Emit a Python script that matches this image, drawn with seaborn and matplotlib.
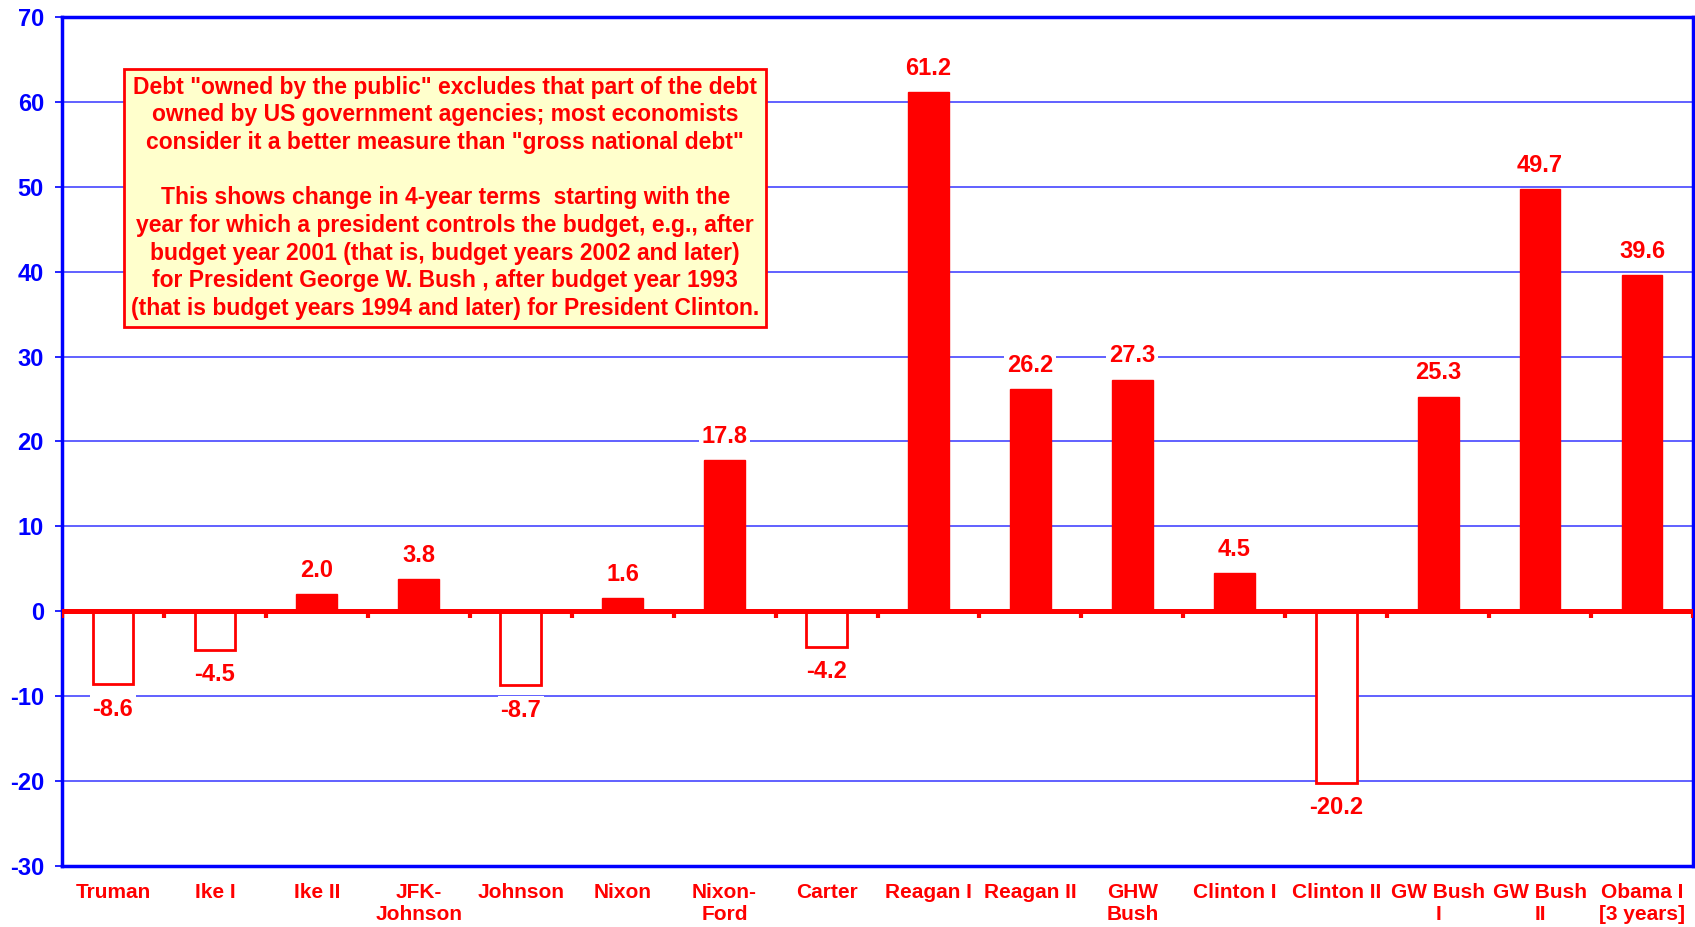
import matplotlib
matplotlib.use("Agg")
import matplotlib.pyplot as plt
import seaborn as sns
import pandas as pd

categories = ["Truman", "Ike I", "Ike II", "JFK-\nJohnson", "Johnson", "Nixon",
              "Nixon-\nFord", "Carter", "Reagan I", "Reagan II", "GHW\nBush",
              "Clinton I", "Clinton II", "GW Bush\nI", "GW Bush\nII", "Obama I\n[3 years]"]
values = [-8.6, -4.5, 2.0, 3.8, -8.7, 1.6, 17.8, -4.2, 61.2, 26.2, 27.3, 4.5, -20.2, 25.3, 49.7, 39.6]
y_ticks = [-30, -20, -10, 0, 10, 20, 30, 40, 50, 60, 70]

note = ('Debt "owned by the public" excludes that part of the debt\n'
        'owned by US government agencies; most economists\n'
        'consider it a better measure than "gross national debt"\n'
        '\n'
        'This shows change in 4-year terms  starting with the\n'
        'year for which a president controls the budget, e.g., after\n'
        'budget year 2001 (that is, budget years 2002 and later)\n'
        'for President George W. Bush , after budget year 1993\n'
        '(that is budget years 1994 and later) for President Clinton.')

RED = "#FF0000"
BLUE = "#0000FF"

sns.set_style("white")
plt.rcParams['font.family'] = ['Liberation Sans', 'DejaVu Sans']
plt.rcParams['font.weight'] = 'bold'

df = pd.DataFrame({"term": categories, "value": values})

fig = plt.figure(figsize=(16.95, 9.27), dpi=100)
ax = fig.add_axes([62/1695, 61/927, 1631/1695, 849/927])

sns.barplot(data=df, x="term", y="value", color=RED, saturation=1, width=0.4, ax=ax, zorder=3)
for p, v in zip(ax.patches, values):
    if v < 0:
        p.set_facecolor("white")
        p.set_edgecolor(RED)
        p.set_linewidth(2)
    else:
        p.set_edgecolor(RED)

ax.set_xlim(-0.5, len(categories) - 0.5)
ax.set_ylim(-30, 70)
ax.set_yticks(y_ticks)
ax.set_yticklabels([str(t) for t in y_ticks])
ax.yaxis.grid(True, color="#3535FF", linewidth=1.1, zorder=0)
ax.set_axisbelow(True)

for s in ax.spines.values():
    s.set_visible(True)
    s.set_color(BLUE)
    s.set_linewidth(2.5)

ax.axhline(0, color=RED, linewidth=3.6, zorder=4)
bounds = [i - 0.5 for i in range(len(categories) + 1)]
ax.vlines(bounds, -0.75, 0, color=RED, linewidth=3, zorder=4)

ax.tick_params(axis="y", colors=BLUE, labelsize=17, length=5, width=1.2, pad=8, left=True)
for lab in ax.get_yticklabels():
    lab.set_fontweight("bold")
ax.tick_params(axis="x", length=0, pad=12, labelsize=15, labelcolor=RED)
for lab in ax.get_xticklabels():
    lab.set_fontweight("bold")
    lab.set_multialignment("center")
    lab.set_linespacing(1.2)
ax.set_xlabel("")
ax.set_ylabel("")

for i, v in enumerate(values):
    off = 17 if v >= 0 else -18
    ax.annotate(f"{v:.1f}", (i, v), xytext=(0, off), textcoords="offset points",
                ha="center", va="center", fontsize=17, fontweight="bold", color=RED,
                bbox=dict(facecolor="white", edgecolor="none", pad=2), zorder=5)

ax.text(0.235, 0.787, note, transform=ax.transAxes, ha="center", va="center",
        multialignment="center", fontsize=16.5, fontweight="bold", color=RED,
        linespacing=1.26, zorder=6,
        bbox=dict(facecolor="#FFFFCC", edgecolor=RED, linewidth=2, boxstyle="square,pad=0.3"))

fig.savefig("out.png", dpi=100)
